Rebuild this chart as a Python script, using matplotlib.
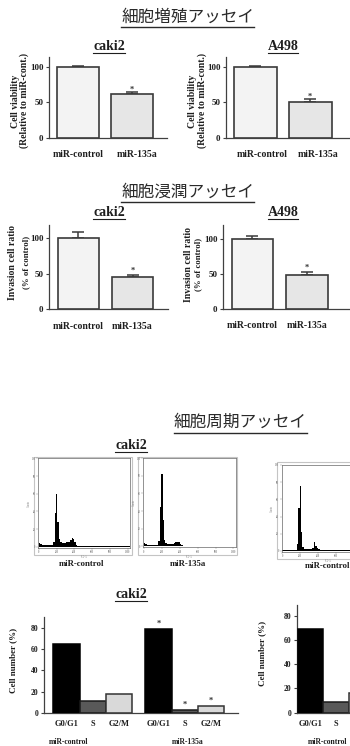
import matplotlib
matplotlib.use('Agg')
import matplotlib.pyplot as plt
from matplotlib.lines import Line2D
from matplotlib.patches import Rectangle
import numpy as np

W, H = 350, 746
SERIF = ['Liberation Serif', 'DejaVu Serif']
JP = ['Noto Sans CJK JP', 'DejaVu Sans']
TXT = '#1e1e1e'
EDGE = '#3a3a3a'
plt.rcParams['font.family'] = SERIF
plt.rcParams['font.weight'] = 'bold'

# ---------------- data ----------------
groups = ['miR-control', 'miR-135a']
via_caki2 = [100, 61.5]
via_caki2_err = [1.5, 2.5]
via_a498 = [100, 51]
via_a498_err = [2.5, 4]
inv_caki2 = [100, 46]
inv_caki2_err = [8.5, 2.5]
inv_a498 = [100, 48.5]
inv_a498_err = [4.5, 4.5]

phases = ['G0/G1', 'S', 'G2/M']
cyc_caki2_ctrl = [64.5, 11.3, 18.5]
cyc_caki2_135a = [78.5, 2.8, 7.2]
cyc_a498_ctrl = [69, 8.8, 16]

hist_edges = [0, 16, 32, 48, 64, 80, 96, 112, 128, 144, 160, 176, 192, 208, 224,
              240, 256, 272, 288, 304, 320, 336, 352, 368, 384, 400, 416, 432,
              448, 512, 640, 768, 896, 1024]
hist_caki2_ctrl = [4, 3, 2.5, 2.2, 2, 2, 1.8, 1.8, 1.8, 2, 6, 38, 60, 28, 9, 5.5,
                   4.5, 4.5, 4.5, 5, 5.5, 6, 8, 10.5, 9, 5, 2, 1.2, 0.9, 0.7,
                   0.6, 0.5, 0.5]
hist_caki2_135a = [3.5, 2.5, 2, 1.8, 1.6, 1.5, 1.5, 1.5, 1.5, 1.8, 6, 45, 82,
                   30, 7, 3.5, 2.5, 2.5, 2.5, 2.5, 3, 3.5, 4.5, 5.5, 5, 3, 1.5, 1,
                   0.8, 0.6, 0.5, 0.5, 0.4]
hist_a498_ctrl = [1.5, 1.2, 1, 1, 1, 1, 1, 1, 1.2, 1.5, 8, 50, 75, 22, 5, 2, 2,
                  2, 2, 2.2, 2.5, 3.5, 10, 6, 3, 2, 1, 0.8, 0.6, 0.5, 0.4, 0.4,
                  0.4]

fig = plt.figure(figsize=(W / 100, H / 100), dpi=100)


def fx(x):
    return x / W


def fy(y):
    return 1 - y / H


def axpx(x0, y0, x1, y1):
    return fig.add_axes([x0 / W, 1 - y1 / H, (x1 - x0) / W, (y1 - y0) / H])


underlines = []


def heading(x, y, s, size, jp, uy, lw):
    if jp:
        t = fig.text(fx(x), fy(y), s, ha='center', va='center', fontsize=size,
                     family=JP, weight='normal', color='#2a2a2a')
    else:
        t = fig.text(fx(x), fy(y), s, ha='center', va='center', fontsize=size,
                     family=SERIF, weight='bold', color=TXT)
    underlines.append((t, uy, lw))


def ytext(x, y, s, size=7):
    fig.text(fx(x), fy(y), s, ha='center', va='center', rotation=90,
             fontsize=size, family=SERIF, weight='bold', color=TXT)


def style_axes(ax, ytick_size):
    for sp in ['top', 'right']:
        ax.spines[sp].set_visible(False)
    for sp in ['left', 'bottom']:
        ax.spines[sp].set_color('#404040')
        ax.spines[sp].set_linewidth(0.9)
    ax.tick_params(axis='y', length=2.5, width=0.8, pad=1.5, colors='#404040',
                   labelcolor=TXT, labelsize=ytick_size)
    ax.tick_params(axis='x', length=0, labelcolor=TXT)


def bar_panel(box, vals, errs, ytop, xlim, width, star_gap, shift=(0, 0)):
    ax = axpx(*box)
    x = np.arange(len(vals))
    ax.bar(x, vals, width=width, color=['#f3f3f3', '#e6e6e6'], edgecolor=EDGE,
           linewidth=1.2, zorder=3)
    ax.errorbar(x, vals, yerr=[np.zeros(len(vals)), errs], fmt='none',
                ecolor=EDGE, elinewidth=1.1, capsize=4.3, capthick=1.1, zorder=2)
    ax.text(x[1], vals[1] + errs[1] + star_gap, '*', ha='center', va='baseline',
            fontsize=6, color='#333333')
    ax.set_xlim(*xlim)
    ax.set_ylim(0, ytop)
    ax.set_yticks([0, 50, 100])
    ax.set_xticks(x + np.array(shift))
    ax.set_xticklabels(groups, fontsize=7)
    style_axes(ax, 6.5)
    ax.tick_params(axis='x', pad=9)
    return ax


def cycle_panel(box, sets, pos_sets, xlim, ytop, star_sets):
    ax = axpx(*box)
    colors = ['#000000', '#595959', '#d9d9d9']
    edges = ['#000000', '#1a1a1a', '#333333']
    ticks, labels = [], []
    for vals, pos, star in zip(sets, pos_sets, star_sets):
        ax.bar(pos, vals, width=1.0, color=colors, edgecolor=edges,
               linewidth=1.1, zorder=3)
        ticks += list(pos)
        labels += phases
        if star:
            for p, v in zip(pos, vals):
                ax.text(p, v + 3, '*', ha='center', va='baseline', fontsize=6,
                        color='#333333')
    ax.set_xlim(*xlim)
    ax.set_ylim(0, ytop)
    ax.set_yticks([0, 20, 40, 60, 80])
    ax.set_xticks(ticks)
    ax.set_xticklabels(labels, fontsize=6)
    style_axes(ax, 5.5)
    ax.tick_params(axis='x', pad=5)
    return ax


def hist_panel(outer, inner, counts, xlim):
    x0, y0, x1, y1 = outer
    fig.add_artist(Rectangle((fx(x0), fy(y1)), (x1 - x0) / W, (y1 - y0) / H,
                             transform=fig.transFigure, facecolor='white',
                             edgecolor='#c4c4c4', linewidth=0.8, zorder=-1))
    ax = axpx(*inner)
    ax.stairs(counts, hist_edges, fill=True, color='black', zorder=2)
    ax.set_xlim(*xlim)
    ax.set_ylim(-1, 100)
    ax.set_xticks([0, 200, 400, 600, 800, 1000])
    ax.set_yticks([0, 20, 40, 60, 80, 100])
    ax.tick_params(length=1.2, width=0.3, labelsize=1.8, pad=0.8, colors='#888888')
    for sp in ax.spines.values():
        sp.set_color('#666666')
        sp.set_linewidth(0.5)
    ax.set_xlabel('FL2-A', fontsize=1.8, labelpad=0.5, color='#888888')
    ax.set_ylabel('Counts', fontsize=1.8, labelpad=0.5, color='#888888')
    return ax


# ---------------- headings ----------------
heading(187.5, 17.5, '細胞増殖アッセイ', 12, True, 27, 1.0)
heading(109, 46, 'caki2', 10, False, 52.5, 0.8)
heading(283, 46, 'A498', 10, False, 52.5, 0.8)
heading(187.5, 192, '細胞浸潤アッセイ', 12, True, 202, 1.0)
heading(109, 212, 'caki2', 10, False, 218.5, 0.8)
heading(283, 212, 'A498', 10, False, 218.5, 0.8)
heading(240, 422, '細胞周期アッセイ', 12, True, 433, 1.0)
heading(131, 446, 'caki2', 10, False, 452, 0.8)
heading(131, 595, 'caki2', 10, False, 601, 0.8)

# ---------------- viability ----------------
bar_panel((49, 57, 167, 137.7), via_caki2, via_caki2_err, 113.7,
          (-0.537, 1.648), 0.78, 0.5, shift=(0, 0.09))
bar_panel((226, 57, 350, 137.7), via_a498, via_a498_err, 114.6,
          (-0.54, 1.73), 0.79, 0.5, shift=(0.12, 0.15))
ytext(15, 101, 'Cell viability')
ytext(24.5, 101, '(Relative to miR-cont.)')
ytext(192.5, 101, 'Cell viability')
ytext(202.5, 101, '(Relative to miR-cont.)')

# ---------------- invasion ----------------
bar_panel((49, 225, 168, 309.3), inv_caki2, inv_caki2_err, 118.7,
          (-0.546, 1.657), 0.76, 3.5)
bar_panel((223, 225, 350, 309), inv_a498, inv_a498_err, 120,
          (-0.54, 1.79), 0.76, 3.5)
ytext(13, 263, 'Invasion cell ratio')
ytext(26.5, 262, '(% of control)', 6.3)
ytext(188.5, 264, 'Invasion cell ratio')
ytext(198, 264, '(% of control)', 6.3)

# ---------------- cell cycle histograms ----------------
hist_panel((34, 457, 132, 555), (38.3, 458.3, 130, 547.7), hist_caki2_ctrl, (-8, 1026))
hist_panel((138.3, 457, 237.3, 555), (143.3, 458, 235.7, 547.3), hist_caki2_135a, (-8, 1026))
hist_panel((276.7, 462.3, 390, 559), (281.7, 465, 374.5, 551.7), hist_a498_ctrl, (-7, 1030))
fig.text(fx(82), fy(564), 'miR-control', ha='center', va='center', fontsize=6.3, color=TXT)
fig.text(fx(188), fy(564), 'miR-135a', ha='center', va='center', fontsize=6.3, color=TXT)
fig.text(fx(328), fy(566), 'miR-control', ha='center', va='center', fontsize=6.3, color=TXT)

# ---------------- cell cycle bars ----------------
cycle_panel((44.3, 617.3, 238, 713.3), [cyc_caki2_ctrl, cyc_caki2_135a],
            [[0, 1, 2], [3.5, 4.5, 5.5]], (-0.85, 6.53), 89.7, [False, True])
cycle_panel((296.7, 605, 500, 712.7), [cyc_a498_ctrl], [[0, 1, 2]],
            (-0.54, 7.37), 89, [False])
ytext(13, 660, 'Cell number (%)', 6.5)
ytext(262, 653, 'Cell number (%)', 6.5)
fig.text(fx(69), fy(742), 'miR-control', ha='center', va='center', fontsize=5.5, color=TXT)
fig.text(fx(188), fy(742), 'miR-135a', ha='center', va='center', fontsize=5.5, color=TXT)
fig.text(fx(328), fy(742), 'miR-control', ha='center', va='center', fontsize=5.5, color=TXT)

# ---------------- underlines ----------------
fig.canvas.draw()
r = fig.canvas.get_renderer()
for t, uy, lw in underlines:
    bb = t.get_window_extent(r)
    fig.add_artist(Line2D([bb.x0 / W, bb.x1 / W], [fy(uy), fy(uy)],
                          transform=fig.transFigure, color=t.get_color(), lw=lw))

fig.savefig('out.png', dpi=100)
